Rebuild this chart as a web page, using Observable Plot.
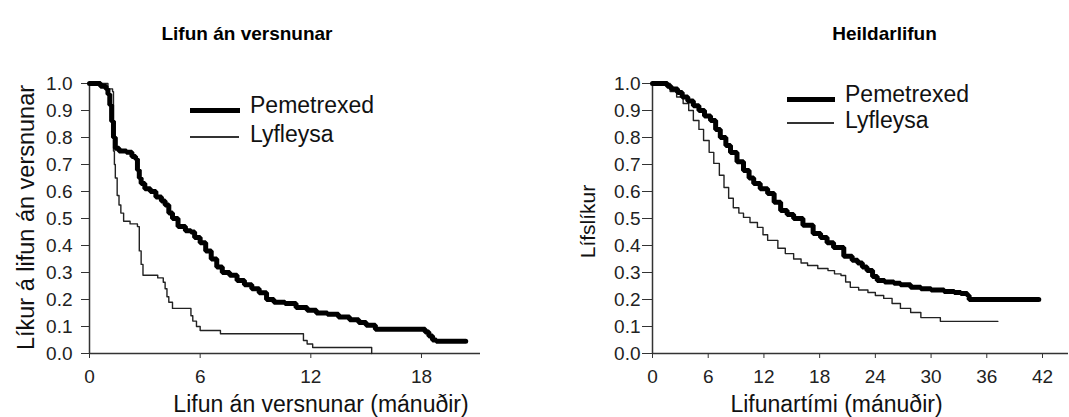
<!DOCTYPE html>
<html><head><meta charset="utf-8">
<script src="https://cdn.jsdelivr.net/npm/d3@7"></script>
<script src="https://cdn.jsdelivr.net/npm/@observablehq/plot@0.6"></script>
<style>
body{margin:0;background:#fff;font-family:"Liberation Sans",Arial,sans-serif;}
#wrap{position:relative;width:1069px;height:417px;display:flex;overflow:hidden;}
.leg{position:absolute;font-size:23px;line-height:23px;color:#111;white-space:nowrap;}
.ln{position:absolute;}
</style></head><body><div id="wrap"></div>
<script>
// ---- Text ----
const panelTitles = ["Lifun án versnunar", "Heildarlifun"];
const xLabels = ["Lifun án versnunar (mánuðir)", "Lifunartími (mánuðir)"];
const yLabels = ["Líkur á lifun án versnunar", "Lífslíkur"];
const seriesNames = ["Pemetrexed", "Lyfleysa"];

// ---- Tick values ----
const yTicks = [0, 0.1, 0.2, 0.3, 0.4, 0.5, 0.6, 0.7, 0.8, 0.9, 1.0];
const xTicksPfs = [0, 6, 12, 18];
const xTicksOs = [0, 6, 12, 18, 24, 30, 36, 42];

// ---- Left: progression-free survival (months, probability) ----
const pfsPemT = [0, 0.6, 0.9, 1.0, 1.1, 1.2, 1.3, 1.4, 1.6, 2.0, 2.3, 2.5, 2.6, 2.7, 2.8, 3.0, 3.3, 3.6, 3.9, 4.1, 4.3, 4.5, 4.8, 5.2, 5.5, 5.7, 6.0, 6.3, 6.6, 6.9, 7.2, 7.6, 8.0, 8.4, 8.8, 9.2, 9.6, 10.0, 10.6, 11.2, 11.8, 12.3, 12.9, 13.5, 14.1, 14.6, 15.0, 15.5, 18.2, 18.4, 18.6, 18.8, 20.4];
const pfsPemS = [1.0, 0.99, 0.98, 0.96, 0.92, 0.86, 0.80, 0.76, 0.75, 0.745, 0.73, 0.72, 0.68, 0.65, 0.63, 0.61, 0.60, 0.58, 0.565, 0.55, 0.52, 0.50, 0.47, 0.455, 0.45, 0.43, 0.41, 0.38, 0.35, 0.32, 0.30, 0.29, 0.27, 0.255, 0.24, 0.225, 0.20, 0.19, 0.185, 0.17, 0.16, 0.15, 0.145, 0.135, 0.125, 0.115, 0.105, 0.09, 0.08, 0.065, 0.05, 0.045, 0.045];
const pfsPlaT = [0, 1.0, 1.25, 1.3, 1.35, 1.4, 1.5, 1.6, 1.7, 1.85, 2.2, 2.6, 2.7, 2.8, 2.9, 3.7, 4.0, 4.1, 4.2, 4.3, 4.5, 5.5, 5.6, 5.8, 6.0, 7.1, 11.6, 11.8, 12.1, 15.3];
const pfsPlaS = [1.0, 0.98, 0.97, 0.75, 0.70, 0.65, 0.585, 0.55, 0.52, 0.49, 0.48, 0.47, 0.38, 0.33, 0.29, 0.28, 0.264, 0.24, 0.21, 0.19, 0.167, 0.14, 0.12, 0.10, 0.085, 0.073, 0.048, 0.035, 0.022, 0.0];

// ---- Right: overall survival (months, probability) ----
const osPemT = [0, 1.6, 2.0, 2.7, 3.2, 3.8, 4.4, 5.0, 5.6, 6.25, 6.8, 7.3, 7.9, 8.4, 9.1, 9.8, 10.4, 10.9, 11.6, 12.4, 13.1, 13.8, 14.5, 15.2, 16.2, 17.3, 18.1, 18.8, 19.5, 20.6, 21.5, 22.1, 22.6, 23.1, 23.7, 24.2, 25.0, 26.0, 26.7, 27.8, 28.9, 30.0, 31.4, 32.5, 33.2, 33.9, 34.1, 41.6];
const osPemS = [1.0, 0.99, 0.98, 0.967, 0.95, 0.935, 0.918, 0.90, 0.88, 0.863, 0.83, 0.80, 0.77, 0.744, 0.71, 0.678, 0.65, 0.63, 0.61, 0.593, 0.56, 0.53, 0.515, 0.50, 0.475, 0.444, 0.43, 0.41, 0.393, 0.36, 0.345, 0.335, 0.32, 0.307, 0.285, 0.27, 0.265, 0.26, 0.255, 0.245, 0.24, 0.235, 0.23, 0.226, 0.222, 0.215, 0.20, 0.20];
const osPlaT = [0, 1.9, 2.6, 3.3, 3.9, 4.4, 5.0, 5.5, 6.1, 6.6, 7.2, 7.7, 8.2, 8.7, 9.3, 9.8, 10.5, 11.3, 11.9, 12.4, 13.5, 14.3, 15.2, 16.0, 16.7, 17.8, 18.9, 19.6, 20.3, 20.8, 21.3, 22.2, 23.2, 24.0, 24.9, 25.8, 26.7, 27.8, 28.9, 31.0, 37.2];
const osPlaS = [1.0, 0.97, 0.95, 0.926, 0.90, 0.863, 0.83, 0.789, 0.745, 0.704, 0.66, 0.615, 0.575, 0.54, 0.52, 0.504, 0.485, 0.467, 0.44, 0.419, 0.39, 0.37, 0.35, 0.335, 0.326, 0.315, 0.307, 0.295, 0.289, 0.265, 0.245, 0.235, 0.226, 0.215, 0.204, 0.185, 0.167, 0.152, 0.133, 0.119, 0.119];

const rows = (T, S) => T.map((t, i) => ({t, s: S[i]}));

function panel(o) {
  return Plot.plot({
    width: o.width, height: 417,
    marginLeft: o.ml, marginRight: o.mr, marginTop: 83, marginBottom: 64,
    style: {fontFamily: '"Liberation Sans", Arial, sans-serif', fontSize: "19px", color: "#222", background: "#fff"},
    x: {domain: [0, o.xMax]},
    y: {domain: [0, 1]},
    marks: [
      Plot.axisX({ticks: o.xTicks, tickSize: 5, tickPadding: 11, label: null, stroke: "#333"}),
      Plot.axisY({ticks: yTicks, tickFormat: d3.format(".1f"), tickSize: o.yts, tickPadding: o.ytp, label: null, stroke: "#333"}),
      Plot.ruleY([0], {stroke: "#333", strokeWidth: 1.5}),
      Plot.ruleX([0], {stroke: "#333", strokeWidth: 1.5}),
      Plot.line(o.pla, {x: "t", y: "s", curve: "step-after", stroke: "#222", strokeWidth: 1.4}),
      Plot.line(o.pem, {x: "t", y: "s", curve: "step-after", stroke: "#000", strokeWidth: 5, strokeLinejoin: "miter"}),
      Plot.text([o.title], {frameAnchor: "top", dx: o.tdx, dy: -50, fontSize: 19, fontWeight: "bold", fill: "#000", lineAnchor: "middle"}),
      Plot.text([o.xLabel], {frameAnchor: "bottom", dx: o.xldx, dy: 51, fontSize: 23, fill: "#111", lineAnchor: "middle", textAnchor: "middle"}),
      Plot.text([o.yLabel], {frameAnchor: "left", rotate: -90, dx: o.yldx, dy: o.yldy, fontSize: o.ylfs, fill: "#111", lineAnchor: "middle", textAnchor: "middle"})
    ]
  });
}

const wrap = document.getElementById("wrap");
wrap.append(panel({
  width: 534, ml: 89, mr: 54, xMax: 21.2, xTicks: xTicksPfs,
  pem: rows(pfsPemT, pfsPemS), pla: rows(pfsPlaT, pfsPlaS),
  title: panelTitles[0], xLabel: xLabels[0], yLabel: yLabels[0],
  tdx: -38, xldx: 36, yldx: -63, yldy: -1, yts: 8, ytp: 9, ylfs: 23.5
}));
wrap.append(panel({
  width: 535, ml: 118, mr: 1, xMax: 44.8, xTicks: xTicksOs,
  pem: rows(osPemT, osPemS), pla: rows(osPlaT, osPlaS),
  title: panelTitles[1], xLabel: xLabels[1], yLabel: yLabels[1],
  tdx: 24, xldx: -24, yldx: -64, yldy: 3, yts: 10, ytp: 2, ylfs: 21
}));

// ---- Legends ----
function legend(x, yThick, yThin, baseThick, baseThin, len) {
  const mk = (cls, css, text) => { const d = document.createElement("div"); d.className = cls; Object.assign(d.style, css); if (text) d.textContent = text; wrap.append(d); };
  mk("ln", {left: x + "px", top: (yThick - 2.5) + "px", width: len + "px", height: "5px", background: "#000"});
  mk("ln", {left: x + "px", top: (yThin - 0.75) + "px", width: (len - 1) + "px", height: "1.5px", background: "#333"});
  mk("leg", {left: (x + len + 10) + "px", top: (baseThick - 19.5) + "px"}, seriesNames[0]);
  mk("leg", {left: (x + len + 10) + "px", top: (baseThin - 19.5) + "px"}, seriesNames[1]);
}
legend(190, 110, 137, 113, 142, 50);
legend(787, 99.5, 123, 102, 128, 48);
</script>
</body></html>
